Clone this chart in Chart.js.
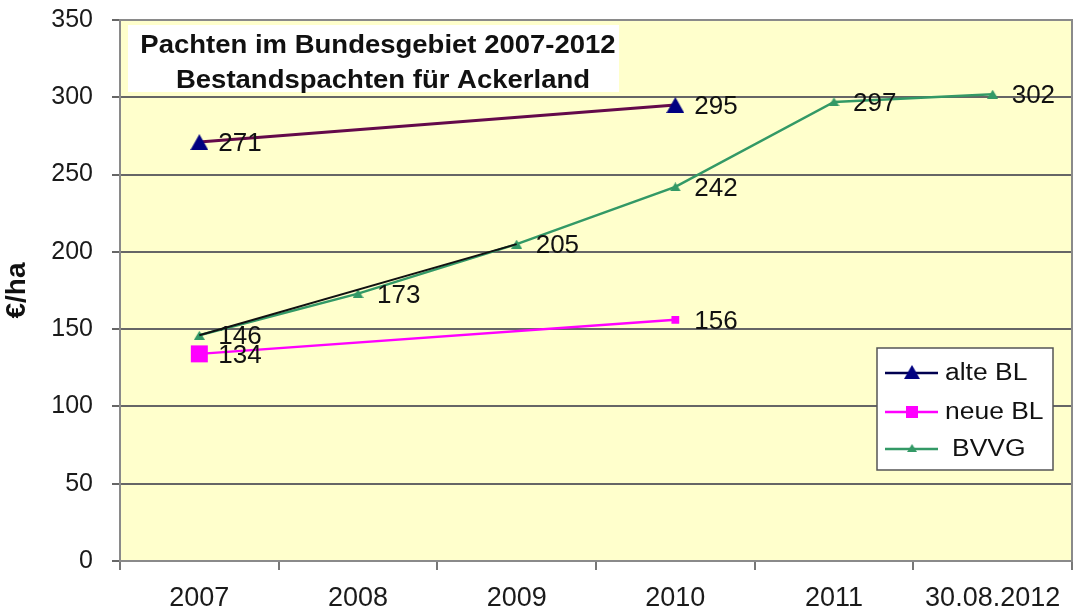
<!DOCTYPE html>
<html>
<head>
<meta charset="utf-8">
<script src="https://cdn.jsdelivr.net/npm/chart.js@4.4.0/dist/chart.umd.min.js"></script>
<style>
  html, body { margin: 0; padding: 0; background: #ffffff; }
  canvas { display: block; }
</style>
</head>
<body>
<canvas id="pachtChart" width="1077" height="611"></canvas>
<script>
// Pachtpreise (€/ha) – Bestandspachten für Ackerland
const categories = ['2007', '2008', '2009', '2010', '2011', '30.08.2012'];
const alteBL = [271, null, null, 295, null, null];
const neueBL = [134, null, null, 156, null, null];
const bvvg = [146, 173, 205, 242, 297, 302];
const bvvgTrend = [146, null, 205, null, null, null];

const seriesNames = ['alte BL', 'neue BL', 'BVVG'];
const titleLines = ['Pachten im Bundesgebiet 2007-2012', 'Bestandspachten für Ackerland'];
const yAxisTitle = '€/ha';
const yMin = 0, yMax = 350, yStep = 50;

const FONT = '"Liberation Sans", Arial, Helvetica, sans-serif';
const COL_ALTE_LINE = '#640a4a';
const COL_ALTE_MARK = '#000080';
const COL_NEUE = '#ff00ff';
const COL_BVVG = '#339966';

// triangle marker whose bounding box is centred on the data point
function triangleMarker(w, h, fill) {
  const c = document.createElement('canvas');
  c.width = w; c.height = h;
  const g = c.getContext('2d');
  g.fillStyle = fill;
  g.beginPath();
  g.moveTo(w / 2, 0);
  g.lineTo(w, h);
  g.lineTo(0, h);
  g.closePath();
  g.fill();
  return c;
}
const bigTriangle = triangleMarker(18, 16, COL_ALTE_MARK);
const smallTriangle = triangleMarker(11, 9, COL_BVVG);

function scaledText(ctx, text, x, y, sx) {
  ctx.save();
  ctx.translate(x, y);
  ctx.scale(sx, 1);
  ctx.fillText(text, 0, 0);
  ctx.restore();
}

// yellow plot background, title box and frame
const plotFrame = {
  id: 'plotFrame',
  beforeDraw(chart) {
    const { ctx, chartArea: a } = chart;
    ctx.save();
    ctx.fillStyle = '#ffffcc';
    ctx.fillRect(a.left, a.top, a.right - a.left, a.bottom - a.top);
    ctx.restore();
  },
  beforeDatasetsDraw(chart) {
    const { ctx, chartArea: a } = chart;
    ctx.save();
    ctx.strokeStyle = '#8a8a8a';
    ctx.lineWidth = 2;
    ctx.beginPath();
    ctx.moveTo(a.left, a.top);
    ctx.lineTo(a.right, a.top);
    ctx.lineTo(a.right, a.bottom);
    ctx.stroke();

    // title box
    ctx.fillStyle = '#ffffff';
    ctx.fillRect(a.left + 8, a.top + 5, 491, 67);
    ctx.fillStyle = '#111111';
    ctx.font = 'bold 25px ' + FONT;
    ctx.textAlign = 'center';
    ctx.textBaseline = 'alphabetic';
    scaledText(ctx, titleLines[0], a.left + 258, a.top + 33, 1.1);
    scaledText(ctx, titleLines[1], a.left + 263, a.top + 68, 1.1);
    ctx.restore();
  }
};

// value labels next to the markers
const valueLabels = {
  id: 'valueLabels',
  afterDatasetsDraw(chart) {
    const ctx = chart.ctx;
    ctx.save();
    ctx.font = '26px ' + FONT;
    ctx.fillStyle = '#111111';
    ctx.textAlign = 'left';
    ctx.textBaseline = 'middle';
    chart.data.datasets.forEach((ds, i) => {
      if (!ds.showValues) return;
      const meta = chart.getDatasetMeta(i);
      meta.data.forEach((pt, j) => {
        const v = ds.data[j];
        if (v === null || v === undefined) return;
        ctx.fillText(String(v), pt.x + 19, pt.y + 2);
      });
    });
    ctx.restore();
  }
};

// boxed legend inside the plot, lower right
const boxLegend = {
  id: 'boxLegend',
  afterDatasetsDraw(chart) {
    const { ctx, chartArea: a } = chart;
    const x0 = a.right - 195, y0 = a.bottom - 213, w = 176, h = 122;
    ctx.save();
    ctx.fillStyle = '#ffffff';
    ctx.fillRect(x0, y0, w, h);
    ctx.strokeStyle = '#555555';
    ctx.lineWidth = 1.5;
    ctx.strokeRect(x0, y0, w, h);

    const rows = [
      { name: seriesNames[0], line: '#000050', y: y0 + 25 },
      { name: seriesNames[1], line: COL_NEUE, y: y0 + 64 },
      { name: seriesNames[2], line: COL_BVVG, y: y0 + 101 }
    ];
    rows.forEach((r, k) => {
      ctx.strokeStyle = r.line;
      ctx.lineWidth = 2.5;
      ctx.beginPath();
      ctx.moveTo(x0 + 8, r.y);
      ctx.lineTo(x0 + 61, r.y);
      ctx.stroke();
      const cx = x0 + 35;
      if (k === 0) {
        ctx.drawImage(bigTriangle, cx - 8, r.y - 8, 16, 14);
      } else if (k === 1) {
        ctx.fillStyle = COL_NEUE;
        ctx.fillRect(cx - 6, r.y - 6, 12, 12);
      } else {
        ctx.drawImage(smallTriangle, cx - 5, r.y - 5, 10, 8);
      }
      ctx.fillStyle = '#111111';
      ctx.font = '23px ' + FONT;
      ctx.textAlign = 'left';
      ctx.textBaseline = 'middle';
      scaledText(ctx, r.name, x0 + (k === 2 ? 75 : 68), r.y + 1, 1.15);
    });
    ctx.restore();
  }
};

new Chart(document.getElementById('pachtChart'), {
  type: 'line',
  data: {
    labels: categories,
    datasets: [
      {
        label: 'Trend',
        data: bvvgTrend,
        spanGaps: true,
        borderColor: '#111111',
        borderWidth: 2,
        pointRadius: 0,
        order: 0
      },
      {
        label: seriesNames[0],
        data: alteBL,
        spanGaps: true,
        borderColor: COL_ALTE_LINE,
        borderWidth: 3,
        pointStyle: bigTriangle,
        pointRadius: 9,
        showValues: true,
        order: 1
      },
      {
        label: seriesNames[1],
        data: neueBL,
        spanGaps: true,
        borderColor: COL_NEUE,
        backgroundColor: COL_NEUE,
        borderWidth: 2.5,
        pointStyle: 'rect',
        pointRadius: [12, 0, 0, 5.5, 0, 0],
        pointBorderWidth: 0,
        showValues: true,
        order: 2
      },
      {
        label: seriesNames[2],
        data: bvvg,
        borderColor: COL_BVVG,
        borderWidth: 2.5,
        pointStyle: smallTriangle,
        pointRadius: 5,
        showValues: true,
        order: 3
      }
    ]
  },
  options: {
    responsive: false,
    animation: false,
    events: [],
    layout: { autoPadding: false, padding: { top: 20, right: 5, left: 0, bottom: 0 } },
    plugins: {
      legend: { display: false },
      tooltip: { enabled: false }
    },
    scales: {
      x: {
        type: 'category',
        offset: true,
        grid: {
          display: true,
          drawOnChartArea: false,
          drawTicks: true,
          tickLength: 9,
          offset: true,
          color: '#777777',
          lineWidth: 2
        },
        border: { display: true, color: '#8a8a8a', width: 2 },
        ticks: {
          font: { family: FONT, size: 27 },
          color: '#1a1a1a',
          padding: 12,
          maxRotation: 0,
          autoSkip: false
        },
        afterFit(scale) {
          scale.height = 50;
          scale.paddingLeft = 0;
          scale.paddingRight = 0;
        }
      },
      y: {
        min: yMin,
        max: yMax,
        ticks: {
          stepSize: yStep,
          font: { family: FONT, size: 25 },
          color: '#1a1a1a',
          padding: 19
        },
        grid: { color: '#666666', lineWidth: 2, tickLength: 8 },
        border: { display: true, color: '#8a8a8a', width: 2 },
        title: {
          display: true,
          text: yAxisTitle,
          font: { family: FONT, size: 28, weight: 'bold' },
          color: '#111111',
          padding: 0
        },
        afterFit(scale) {
          scale.width = 120;
          scale.paddingTop = 0;
          scale.paddingBottom = 0;
        }
      }
    }
  },
  plugins: [plotFrame, valueLabels, boxLegend]
});
</script>
</body>
</html>
